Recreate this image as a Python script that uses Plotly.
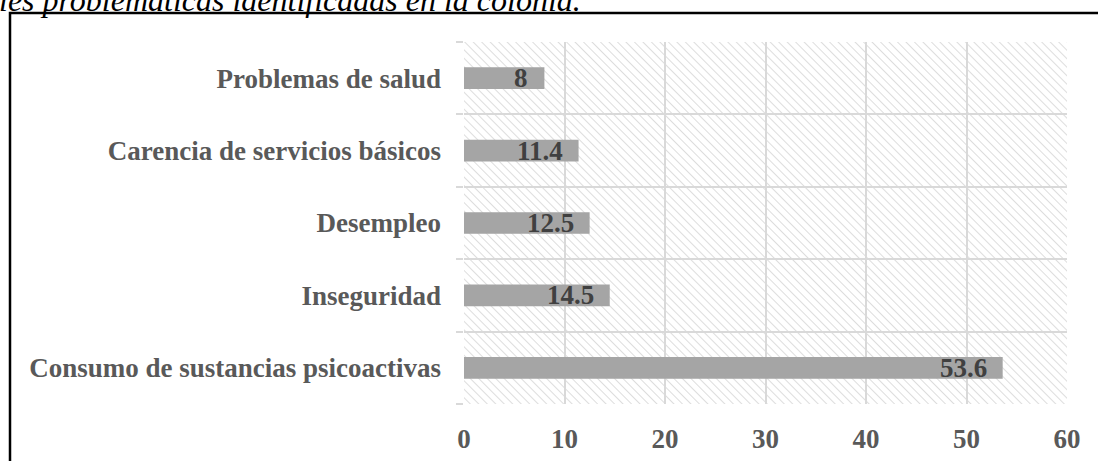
import plotly.graph_objects as go
import urllib.parse

categories = ["Consumo de sustancias psicoactivas", "Inseguridad", "Desempleo",
              "Carencia de servicios básicos", "Problemas de salud"]
values = [53.6, 14.5, 12.5, 11.4, 8]
value_labels = ["53.6", "14.5", "12.5", "11.4", "8"]
x_ticks = [0, 10, 20, 30, 40, 50, 60]
title_text = "les problemáticas identificadas en la colonia."

W, H = 1098, 461
L, R, T, B = 464, 31, 42, 57
pw, ph = W - L - R, H - T - B

FONT = "Liberation Serif"
GRID = "#d9d9d9"

# hatch pattern background for plot area
svg = (
    f"<svg xmlns='http://www.w3.org/2000/svg' width='{pw}' height='{ph}'>"
    "<defs><pattern id='p' width='6' height='6' patternUnits='userSpaceOnUse' "
    "patternTransform='rotate(-45)'>"
    "<line x1='0' y1='0' x2='0' y2='6' stroke='#d4d4d4' stroke-width='1.6'/>"
    "</pattern></defs>"
    f"<rect width='{pw}' height='{ph}' fill='white'/>"
    f"<rect width='{pw}' height='{ph}' fill='url(#p)'/></svg>"
)
src = "data:image/svg+xml;charset=utf-8," + urllib.parse.quote(svg)

fig = go.Figure()
fig.add_trace(go.Bar(
    x=values, y=categories, orientation="h",
    marker=dict(color="#a5a5a5", line=dict(width=0)),
    width=0.3, hoverinfo="skip",
))

annots = [dict(x=v, y=c, text=t, xref="x", yref="y", xanchor="right",
               yanchor="middle", xshift=-14, showarrow=False,
               font=dict(family=FONT, size=27, color="#404040", weight="bold"))
          for v, c, t in zip(values, categories, value_labels)]
annots.append(dict(text=title_text, xref="paper", yref="paper",
                   x=(-3 - L) / pw, y=(H - B - 20) / ph,
                   xanchor="left", yanchor="bottom", showarrow=False,
                   font=dict(family=FONT, size=32, color="black", style="italic")))

fig.update_layout(
    width=W, height=H,
    margin=dict(l=L, r=R, t=T, b=B, pad=0, autoexpand=False),
    paper_bgcolor="white", plot_bgcolor="rgba(0,0,0,0)",
    showlegend=False,
    images=[dict(source=src, xref="paper", yref="paper", x=0, y=1,
                 sizex=1, sizey=1, sizing="stretch", layer="below",
                 xanchor="left", yanchor="top")],
    xaxis=dict(range=[0, 60], tickvals=x_ticks, showgrid=True, gridcolor=GRID,
               gridwidth=1.5, zeroline=False, showline=False, automargin=False,
               tickfont=dict(family=FONT, size=27, color="#595959", weight="bold"),
               ticks="", ticklabelstandoff=16, fixedrange=True),
    yaxis=dict(type="category", categoryorder="array", categoryarray=categories,
               tickson="boundaries", ticks="outside", ticklen=7, tickcolor=GRID,
               tickwidth=1.5, showgrid=True, gridcolor=GRID, gridwidth=1.5,
               showline=False, zeroline=False, ticklabelstandoff=22, automargin=False,
               tickfont=dict(family=FONT, size=27, color="#595959", weight="bold"),
               fixedrange=True),
    shapes=[dict(type="rect", xref="paper", yref="paper",
                 x0=(10 - L) / pw, x1=(W + 20 - L) / pw,
                 y0=(H - B - (H + 20)) / ph, y1=(H - B - 13) / ph,
                 line=dict(color="black", width=2.5), fillcolor="rgba(0,0,0,0)",
                 layer="above")],
    annotations=annots,
)

fig.write_html("out.html", config={"displayModeBar": False},
               post_script="document.body.style.margin='0';document.body.style.padding='0';")
